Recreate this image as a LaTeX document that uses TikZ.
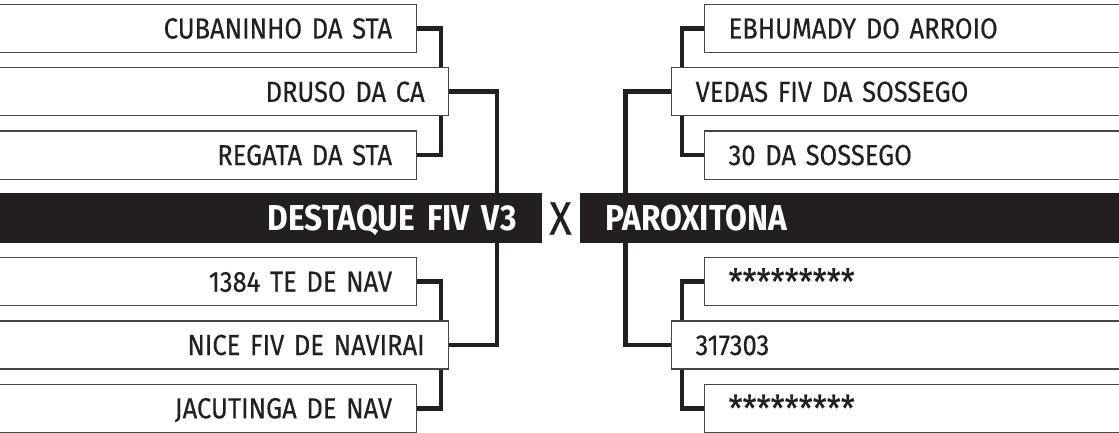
\documentclass[tikz,border=0pt]{standalone}
\usepackage{fontspec}
\setmainfont{Fira Sans}[FakeStretch=0.88, WordSpace=0.75, UprightFeatures={FakeBold=0.35}]
\usetikzlibrary{backgrounds}
\definecolor{ink}{HTML}{231F20}
\tikzset{
  teambox/.style={draw=black!72, line width=1.2pt, fill=white, text=ink,
    minimum height=48pt, inner xsep=24pt, inner ysep=0pt, text width=420pt,
    text height=20pt, text depth=0pt, font=\fontsize{29}{29}\selectfont},
  leftbox/.style={teambox, anchor=east, align=right},
  rightbox/.style={teambox, anchor=west, align=left},
  finalbox/.style={fill=ink, text=white, minimum height=49.5pt, inner xsep=25pt,
    inner ysep=0pt, text width=520pt, text height=25pt, text depth=0pt,
    font=\bfseries\fontsize{36}{36}\selectfont},
  conn/.style={draw=ink, line width=4.6pt},
  vs/.style={text=ink, inner sep=0pt, font=\fontsize{47}{47}\selectfont}
}
\newcommand{\stars}{\raisebox{-3pt}{\fontsize{36}{36}\selectfont *********}}
\begin{document}
\begin{tikzpicture}[x=1pt, y=-1pt]
\useasboundingbox (0,0) rectangle (1119,433);
% left side
\node[leftbox] (L1) at (416.7, 28.5) {CUBANINHO DA STA};
\node[leftbox] (L2) at (449.3, 91.8) {DRUSO DA CA};
\node[leftbox] (L3) at (416.7, 155.1) {REGATA DA STA};
\node[leftbox] (L4) at (416.7, 281.7) {1384 TE DE NAV};
\node[leftbox] (L5) at (449.3, 345.0) {NICE FIV DE NAVIRAI};
\node[leftbox] (L6) at (416.7, 408.3) {JACUTINGA DE NAV};
% right side
\node[rightbox] (R1) at (704, 28.5) {EBHUMADY DO ARROIO};
\node[rightbox] (R2) at (671, 91.8) {VEDAS FIV DA SOSSEGO};
\node[rightbox] (R3) at (704, 155.1) {30 DA SOSSEGO};
\node[rightbox] (R4) at (704, 281.7) {\stars};
\node[rightbox] (R5) at (671, 345.0) {317303};
\node[rightbox] (R6) at (704, 408.3) {\stars};
% final
\node[finalbox, anchor=east, align=right] (FL) at (541.7, 217.75) {DESTAQUE FIV V3};
\node[finalbox, anchor=west, align=left] (FR) at (580, 217.75) {PAROXITONA};
\node[vs] (X) at (560.5, 218.5) {X};
% junction coordinates
\coordinate (jLi) at (441, 0);
\coordinate (jLo) at (497, 0);
\coordinate (jRi) at (682, 0);
\coordinate (jRo) at (625.7, 0);
\begin{scope}[on background layer]
\draw[conn] (L1.east) -| (jLi |- L2.center);
\draw[conn] (L3.east) -| (jLi |- L2.center);
\draw[conn] (L4.east) -| (jLi |- L5.center);
\draw[conn] (L6.east) -| (jLi |- L5.center);
\draw[conn] (L2.east) -| (jLo |- FL.center) |- (L5.east);
\draw[conn] (R1.west) -| (jRi |- R2.center);
\draw[conn] (R3.west) -| (jRi |- R2.center);
\draw[conn] (R4.west) -| (jRi |- R5.center);
\draw[conn] (R6.west) -| (jRi |- R5.center);
\draw[conn] (R2.west) -| (jRo |- FR.center) |- (R5.west);
\end{scope}
\end{tikzpicture}
\end{document}
